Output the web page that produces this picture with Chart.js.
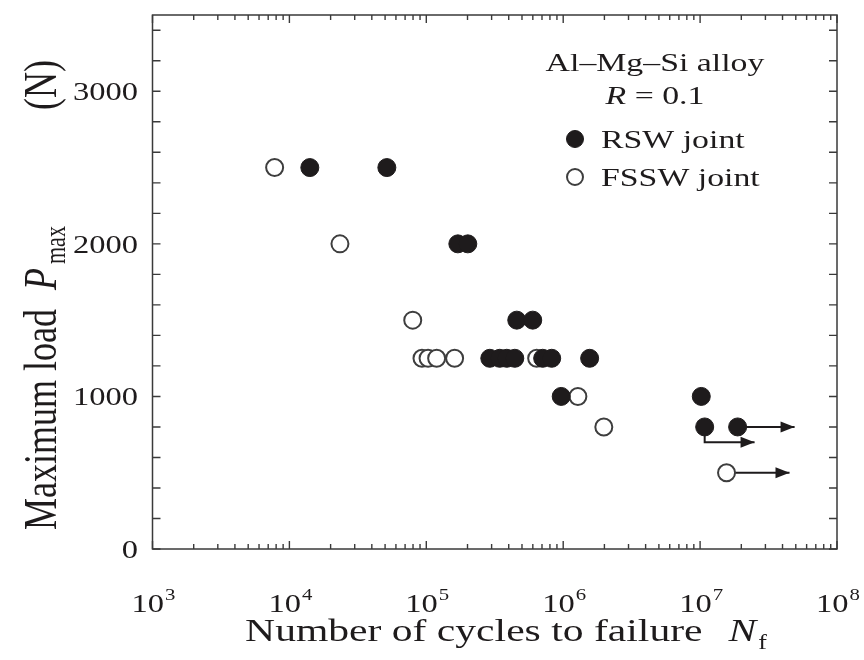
<!DOCTYPE html>
<html>
<head>
<meta charset="utf-8">
<script src="https://cdn.jsdelivr.net/npm/chart.js@4/dist/chart.umd.min.js"></script>
<style>
  html, body { margin: 0; background: #fff; }
</style>
</head>
<body>
<canvas id="fatigueChart" width="864" height="660"></canvas>
<script>
// axis ticks
const xDecades = [3, 4, 5, 6, 7, 8];
const yTickValues = [0, 1000, 2000, 3000];

// RSW joint (solid symbols)
const rswCycles = [1.41e4, 5.15e4, 1.70e5, 2.01e5, 4.58e5, 5.99e5, 2.91e5, 3.44e5, 3.87e5, 4.43e5, 7.08e5, 8.24e5, 1.56e6, 9.67e5, 1.02e7, 1.08e7, 1.88e7];
const rswLoad   = [2500, 2500, 2000, 2000, 1500, 1500, 1250, 1250, 1250, 1250, 1250, 1250, 1250, 1000, 1000, 800, 800];

// FSSW joint (open symbols)
const fsswCycles = [7.8e3, 2.34e4, 7.96e4, 9.3e4, 1.03e5, 1.19e5, 1.61e5, 6.4e5, 1.28e6, 1.98e6, 1.56e7];
const fsswLoad   = [2500, 2000, 1500, 1250, 1250, 1250, 1250, 1250, 1000, 800, 500];

// run-out arrows (no failure), last point is the arrow tip
const runoutCycles = [[1.08e7, 1.08e7, 2.5e7], [1.88e7, 4.9e7], [1.56e7, 4.5e7]];
const runoutLoad   = [[800, 700, 700], [800, 800], [500, 500]];

const SERIF = '"Liberation Serif", "DejaVu Serif", serif';
const INK = '#1e1b1c';
const SX = 1.3; // glyphs in this figure are set wide

function wideText(ctx, parts, x, y, align) {
  // parts: [{t, size, italic, dy, gap}]
  let total = 0;
  parts.forEach(p => {
    ctx.font = (p.italic ? 'italic ' : '') + p.size + 'px ' + SERIF;
    p.w = ctx.measureText(p.t).width * SX;
    total += p.w + (p.gap || 0);
  });
  let cx = align === 'center' ? x - total / 2 : align === 'right' ? x - total : x;
  parts.forEach(p => {
    ctx.save();
    ctx.font = (p.italic ? 'italic ' : '') + p.size + 'px ' + SERIF;
    ctx.translate(cx + (p.gap || 0), y + (p.dy || 0));
    ctx.scale(SX, 1);
    ctx.textAlign = 'left';
    ctx.fillText(p.t, 0, 0);
    ctx.restore();
    cx += p.w + (p.gap || 0);
  });
}

const paperFrame = {
  id: 'paperFrame',
  afterDatasetsDraw(chart) {
    const ctx = chart.ctx;
    chart.data.datasets.forEach((ds, i) => {
      if (!ds.runout) return;
      const pts = chart.getDatasetMeta(i).data;
      const a = pts[pts.length - 2], b = pts[pts.length - 1];
      const ang = Math.atan2(b.y - a.y, b.x - a.x);
      ctx.save();
      ctx.translate(b.x, b.y);
      ctx.rotate(ang);
      ctx.fillStyle = INK;
      ctx.beginPath();
      ctx.moveTo(0, 0);
      ctx.lineTo(-14, -5.5);
      ctx.lineTo(-14, 5.5);
      ctx.closePath();
      ctx.fill();
      ctx.restore();
    });
  },
  afterDraw(chart) {
    const ctx = chart.ctx;
    const { left, right, top, bottom } = chart.chartArea;
    const xs = chart.scales.x, ys = chart.scales.y;
    ctx.save();
    ctx.strokeStyle = '#3a3a3a';
    ctx.lineWidth = 1.5;
    ctx.strokeRect(left, top, right - left, bottom - top);

    // inward ticks on all four sides
    ctx.lineWidth = 1.4;
    ctx.beginPath();
    for (let v = 0; v <= 3400; v += 200) {
      const py = ys.getPixelForValue(v);
      ctx.moveTo(left, py); ctx.lineTo(left + 8, py);
      ctx.moveTo(right, py); ctx.lineTo(right - 8, py);
    }
    xDecades.forEach(d => {
      for (let k = 1; k <= 9; k++) {
        if (d === 8 && k > 1) break;
        const px = xs.getPixelForValue(k * Math.pow(10, d));
        const len = k === 1 ? 8 : 5;
        ctx.moveTo(px, bottom); ctx.lineTo(px, bottom - len);
        ctx.moveTo(px, top); ctx.lineTo(px, top + len);
      }
    });
    ctx.stroke();

    ctx.fillStyle = INK;
    ctx.textBaseline = 'alphabetic';

    // y tick labels
    yTickValues.forEach(v => {
      wideText(ctx, [{ t: String(v), size: 25 }], 138, ys.getPixelForValue(v) + 9, 'right');
    });

    // x tick labels as powers of ten
    xDecades.forEach(d => {
      wideText(ctx, [{ t: '10', size: 25 }, { t: String(d), size: 16, dy: -12, gap: 1 }],
        xs.getPixelForValue(Math.pow(10, d)) + 1, 612, 'center');
    });

    // x axis title
    wideText(ctx, [
      { t: 'Number of cycles to failure', size: 32 },
      { t: 'N', size: 32, italic: true, gap: 26 },
      { t: 'f', size: 20, dy: 8, gap: 2 }
    ], 506, 641, 'center');

    // y axis title, reading upward
    ctx.save();
    ctx.translate(56, 530);
    ctx.rotate(-Math.PI / 2);
    ctx.scale(1, SX);
    ctx.textAlign = 'left';
    ctx.font = '36px ' + SERIF;
    ctx.fillText('Maximum load', 0, 0);
    ctx.font = 'italic 36px ' + SERIF;
    ctx.fillText('P', 240, 0);
    ctx.font = '22px ' + SERIF;
    ctx.fillText('max', 266, 7);
    ctx.font = '36px ' + SERIF;
    ctx.fillText('(N)', 420, 0);
    ctx.restore();

    // material note
    wideText(ctx, [{ t: 'Al\u2013Mg\u2013Si alloy', size: 26 }], 655, 71, 'center');
    wideText(ctx, [{ t: 'R', size: 26, italic: true }, { t: ' = 0.1', size: 26 }], 655, 104, 'center');

    // legend
    const leg = [chart.data.datasets[0], chart.data.datasets[1]];
    leg.forEach((ds, i) => {
      const ly = 139 + i * 38;
      ctx.beginPath();
      ctx.arc(575, ly, ds.pointRadius - 0.5, 0, Math.PI * 2);
      ctx.fillStyle = ds.pointBackgroundColor;
      ctx.fill();
      ctx.lineWidth = ds.pointBorderWidth;
      ctx.strokeStyle = ds.pointBorderColor;
      ctx.stroke();
      ctx.fillStyle = INK;
      wideText(ctx, [{ t: ds.label, size: 26 }], 601, ly + 9, 'left');
    });
    ctx.restore();
  }
};

const toPoints = (xs, ys) => xs.map((x, i) => ({ x: x, y: ys[i] }));

const datasets = [
  {
    label: 'RSW joint',
    data: toPoints(rswCycles, rswLoad),
    pointRadius: 9,
    pointBackgroundColor: INK,
    pointBorderColor: INK,
    pointBorderWidth: 1,
    order: 1
  },
  {
    label: 'FSSW joint',
    data: toPoints(fsswCycles, fsswLoad),
    pointRadius: 8.5,
    pointBackgroundColor: '#ffffff',
    pointBorderColor: '#3e3e3e',
    pointBorderWidth: 2,
    order: 2
  }
];
runoutCycles.forEach((c, i) => {
  datasets.push({
    label: 'run-out',
    runout: true,
    data: toPoints(c, runoutLoad[i]),
    showLine: true,
    pointRadius: 0,
    borderColor: INK,
    borderWidth: 2,
    order: 3
  });
});

new Chart(document.getElementById('fatigueChart'), {
  type: 'scatter',
  data: { datasets },
  options: {
    responsive: false,
    animation: false,
    events: [],
    layout: { padding: { left: 0, top: 15, right: 27, bottom: 0 } },
    plugins: { legend: { display: false }, tooltip: { enabled: false } },
    scales: {
      x: {
        type: 'logarithmic', min: 1e3, max: 1e8,
        ticks: { display: false }, grid: { display: false }, border: { display: false },
        afterFit(s) { s.height = 111; }
      },
      y: {
        min: 0, max: 3500,
        ticks: { display: false }, grid: { display: false }, border: { display: false },
        afterFit(s) { s.width = 152.5; }
      }
    }
  },
  plugins: [paperFrame]
});
</script>
</body>
</html>
